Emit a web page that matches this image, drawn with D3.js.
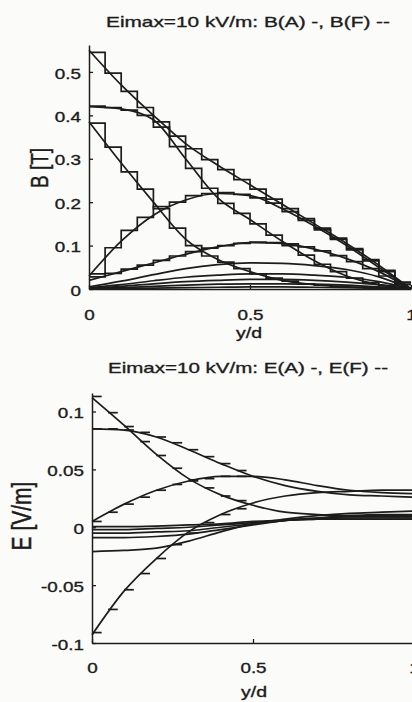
<!DOCTYPE html>
<html>
<head>
<meta charset="utf-8">
<script src="https://cdn.jsdelivr.net/npm/d3@7"></script>
<style>
  html, body { margin: 0; padding: 0; background: #fbfbf9; }
  svg { display: block; font-family: "Liberation Sans", Arial, sans-serif; }
  svg text { stroke: #1c1c1c; stroke-width: 0.35px; }
</style>
</head>
<body>
<div id="chart"></div>
<script>
// ===== Data =====
// smooth curves sampled at y/d = 0, 0.1, ..., 1
const xNodes = [0, 0.1, 0.2, 0.3, 0.4, 0.5, 0.6, 0.7, 0.8, 0.9, 1];
// staircase elements: 20 elements of width 0.05
const nElem = 20;

// --- B field, F (smooth) ---
const bF1 = [0.55, 0.47, 0.40, 0.335, 0.285, 0.24, 0.195, 0.15, 0.105, 0.055, 0];
const bF2 = [0.42, 0.415, 0.39, 0.30, 0.21, 0.16, 0.11, 0.065, 0.03, 0.01, 0];
const bF3 = [0.385, 0.29, 0.20, 0.115, 0.068, 0.04, 0.02, 0.01, 0.005, 0.002, 0];
const bF4 = [0.03, 0.11, 0.17, 0.205, 0.22, 0.215, 0.185, 0.145, 0.10, 0.05, 0];
const bF5 = [0.02, 0.04, 0.06, 0.08, 0.097, 0.107, 0.105, 0.092, 0.07, 0.04, 0];
const bF6 = [0.005, 0.018, 0.033, 0.047, 0.056, 0.06, 0.059, 0.054, 0.045, 0.028, 0];
const bF7 = [0.003, 0.01, 0.019, 0.027, 0.032, 0.035, 0.035, 0.032, 0.027, 0.017, 0];
const bF8 = [0.002, 0.006, 0.012, 0.017, 0.02, 0.022, 0.022, 0.02, 0.016, 0.01, 0];
const bF9 = [0.001, 0.003, 0.006, 0.009, 0.011, 0.012, 0.012, 0.011, 0.009, 0.005, 0];
const bF10 = [0, 0.001, 0.002, 0.003, 0.004, 0.005, 0.005, 0.004, 0.003, 0.002, 0];

// --- B field, A (element-wise constant) ---
const bA1 = [0.545, 0.497, 0.455, 0.418, 0.385, 0.352, 0.323, 0.298, 0.275, 0.252,
             0.23, 0.207, 0.185, 0.162, 0.14, 0.117, 0.093, 0.068, 0.043, 0.016];
const bA2 = [0.421, 0.418, 0.412, 0.40, 0.373, 0.328, 0.278, 0.232, 0.197, 0.174,
             0.15, 0.124, 0.10, 0.078, 0.057, 0.04, 0.025, 0.015, 0.008, 0.003];
const bA3 = [0.382, 0.327, 0.27, 0.23, 0.185, 0.14, 0.10, 0.076, 0.062, 0.047,
             0.035, 0.025, 0.018, 0.012, 0.009, 0.006, 0.004, 0.003, 0.002, 0.001];
const bA4 = [0.035, 0.095, 0.135, 0.165, 0.19, 0.20, 0.215, 0.22, 0.222, 0.218,
             0.21, 0.198, 0.178, 0.158, 0.136, 0.114, 0.09, 0.065, 0.04, 0.014];
const bA5 = [0.028, 0.036, 0.046, 0.055, 0.066, 0.076, 0.086, 0.094, 0.10, 0.105,
             0.108, 0.107, 0.104, 0.097, 0.088, 0.077, 0.063, 0.047, 0.03, 0.01];

// --- E field, F (smooth) ---
const eF1 = [0.112, 0.088, 0.063, 0.042, 0.028, 0.019, 0.013, 0.011, 0.010, 0.010, 0.010];
const eF2 = [0.085, 0.084, 0.078, 0.067, 0.055, 0.044, 0.036, 0.031, 0.028, 0.027, 0.026];
const eF3 = [0.005, 0.02, 0.032, 0.04, 0.044, 0.044, 0.041, 0.036, 0.032, 0.030, 0.029];
const eF4 = [-0.093, -0.055, -0.027, -0.004, 0.011, 0.021, 0.027, 0.030, 0.031, 0.032, 0.032];
const eF5 = [-0.021, -0.02, -0.018, -0.012, -0.004, 0.003, 0.007, 0.010, 0.012, 0.013, 0.014];
const eF6 = [-0.009, -0.009, -0.008, -0.006, -0.002, 0.002, 0.006, 0.008, 0.010, 0.011, 0.011];
const eF7 = [-0.005, -0.005, -0.004, -0.003, 0, 0.003, 0.006, 0.008, 0.009, 0.009, 0.009];
const eF8 = [-0.002, -0.002, -0.001, 0, 0.002, 0.004, 0.006, 0.007, 0.008, 0.008, 0.008];
const eF9 = [0.0005, 0.0005, 0.001, 0.002, 0.003, 0.005, 0.006, 0.007, 0.007, 0.007, 0.007];

// --- E field, A (short marks at element nodes 0 .. 0.45) ---
const eA1 = [0.113, 0.099, 0.087, 0.074, 0.062, 0.051, 0.041, 0.034, 0.027, 0.023];
const eA2 = [0.085, 0.085, 0.084, 0.082, 0.078, 0.073, 0.067, 0.061, 0.055, 0.049];
const eA3 = [0.005, 0.013, 0.02, 0.026, 0.032, 0.037, 0.04, 0.042, 0.044, 0.044];
const eA4 = [-0.091, -0.071, -0.054, -0.04, -0.027, -0.015, -0.005, 0.004, 0.011, 0.016];

// ticks
const xTicks = [0, 0.5, 1];
const bTicks = [0, 0.1, 0.2, 0.3, 0.4, 0.5];
const eTicks = [-0.1, -0.05, 0, 0.05, 0.1];

// ===== Drawing =====
const W = 412, H = 702;
const ink = "#1c1c1c";
const svg = d3.select("#chart").append("svg").attr("width", W).attr("height", H);

function stretchText(sel, sx) {
  // scanned figure has wide lettering -> stretch horizontally
  sel.each(function () {
    const t = d3.select(this);
    const x = +t.attr("x") || 0;
    t.attr("x", x / sx).attr("transform", `scale(${sx},1)`);
  });
}

function drawPanel(p) {
  const x = d3.scaleLinear().domain([0, 1]).range(p.xRange);
  const y = d3.scaleLinear().domain(p.yDomain).range(p.yRange);
  const g = svg.append("g");

  // smooth (F) curves
  const line = d3.line().x(d => x(d[0])).y(d => y(d[1])).curve(d3.curveMonotoneX);
  p.smooth.forEach(vals => {
    g.append("path")
      .attr("d", line(vals.map((v, i) => [xNodes[i], v])))
      .attr("fill", "none").attr("stroke", ink).attr("stroke-width", 1.7);
  });

  // staircase (A) curves
  const step = d3.line().x(d => x(d[0])).y(d => y(d[1])).curve(d3.curveStepAfter);
  (p.stairs || []).forEach(vals => {
    const pts = vals.map((v, i) => [i / nElem, v]);
    pts.push([1, vals[vals.length - 1]]);
    g.append("path")
      .attr("d", step(pts))
      .attr("fill", "none").attr("stroke", ink).attr("stroke-width", 1.7);
  });

  // short marks (A) on E curves
  (p.marks || []).forEach(vals => {
    g.selectAll(null)
      .data(vals.map((v, i) => [i / nElem, v]))
      .enter().append("line")
      .attr("x1", d => x(d[0]))
      .attr("x2", d => x(d[0] + 0.03))
      .attr("y1", d => y(d[1]))
      .attr("y2", d => y(d[1]))
      .attr("stroke", ink).attr("stroke-width", 1.7);
  });

  // axes
  const yAxis = g.append("g")
    .attr("transform", `translate(${p.xRange[0]},0)`)
    .call(d3.axisLeft(y).tickValues(p.yTicks).tickSize(-4).tickSizeOuter(0)
      .tickFormat(d => String(d)));
  const xAxis = g.append("g")
    .attr("transform", `translate(0,${p.yRange[0]})`)
    .call(d3.axisBottom(x).tickValues(xTicks).tickSize(-4).tickSizeOuter(0)
      .tickFormat(d => String(d)));

  [yAxis, xAxis].forEach(a => {
    a.select(".domain").attr("stroke", ink).attr("stroke-width", 1.5);
    a.selectAll(".tick line").attr("stroke", ink).attr("stroke-width", 1.3);
    a.selectAll("text").attr("fill", ink).style("font-size", "14.5px")
      .style("font-family", "\"Liberation Sans\", Arial, sans-serif");
  });
  yAxis.selectAll("text").attr("x", -8).attr("dy", "0.42em");
  stretchText(yAxis.selectAll("text"), 1.3);
  xAxis.selectAll("text").attr("y", p.xTickDy).attr("dy", 0);
  stretchText(xAxis.selectAll("text"), 1.3);

  // title
  g.append("text")
    .attr("x", p.title.x).attr("y", p.title.y)
    .attr("textLength", p.title.len).attr("lengthAdjust", "spacingAndGlyphs")
    .attr("fill", ink).style("font-size", "15px")
    .text(p.title.text);

  // x label
  g.append("text")
    .attr("transform", `translate(${p.xlabel.x},${p.xlabel.y}) scale(1.3,1)`)
    .attr("text-anchor", "middle").attr("fill", ink).style("font-size", "15px")
    .text("y/d");

  // y label
  g.append("text")
    .attr("transform", `translate(${p.ylabel.x},${p.ylabel.y}) scale(1.3,1) rotate(-90)`)
    .attr("text-anchor", "middle").attr("fill", ink).style("font-size", p.ylabel.size)
    .text(p.ylabel.text);
}

drawPanel({
  xRange: [89, 411],
  yDomain: [0, 0.562],
  yRange: [289, 45],
  yTicks: bTicks,
  xTickDy: 31,
  smooth: [bF1, bF2, bF3, bF4, bF5, bF6, bF7, bF8, bF9, bF10],
  stairs: [bA1, bA2, bA3, bA4, bA5],
  title: { text: "Eimax=10 kV/m: B(A) -, B(F) --", x: 106, y: 27, len: 284 },
  xlabel: { x: 249, y: 338 },
  ylabel: { text: "B [T]", x: 48, y: 168, size: "19px" }
});

drawPanel({
  xRange: [92, 414],
  yDomain: [-0.1, 0.116],
  yRange: [643, 393],
  yTicks: eTicks,
  xTickDy: 30,
  smooth: [eF1, eF2, eF3, eF4, eF5, eF6, eF7, eF8, eF9],
  marks: [eA1, eA2, eA3, eA4],
  title: { text: "Eimax=10 kV/m: E(A) -, E(F) --", x: 108, y: 373, len: 280 },
  xlabel: { x: 254, y: 697 },
  ylabel: { text: "E [V/m]", x: 31, y: 516, size: "21px" }
});
</script>
</body>
</html>
